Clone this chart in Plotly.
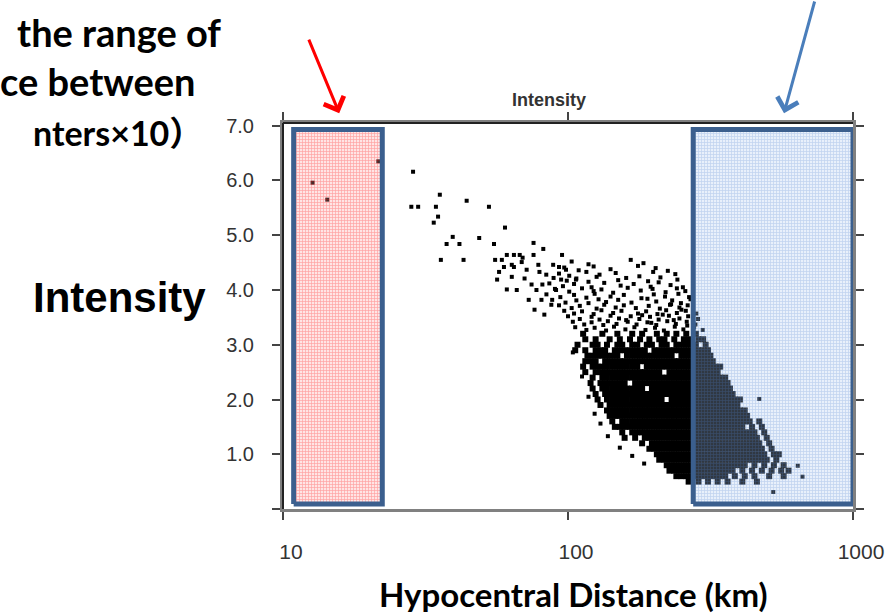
import plotly.graph_objects as go

# ---------------- data ----------------
# isolated events: (hypocentral distance km, intensity)
sparse_pts = [
    (12.7, 5.96), (14.3, 5.65), (21.6, 6.35),
    (28.6, 6.16), (35.5, 5.74), (28.2, 5.52), (29.8, 5.52), (34.4, 5.52),
    (44.1, 5.63), (52.8, 5.52), (35.0, 5.34), (33.8, 5.23), (60.1, 5.14),
    (39.4, 4.97), (37.5, 4.84), (41.6, 4.84), (48.8, 4.95), (55.0, 4.84),
    (75.7, 4.86), (81.9, 4.75), (64.6, 4.64), (67.7, 4.64), (35.8, 4.55),
    (43.0, 4.55), (55.5, 4.55), (61.0, 4.64), (69.3, 4.59), (75.7, 4.64),
    (59.6, 4.42), (64.6, 4.42), (57.3, 4.33), (63.5, 4.24), (79.4, 4.33),
    (93.0, 4.42), (56.4, 4.19), (58.6, 4.55), (63.5, 4.46), (68.8, 4.51),
    (61.0, 4.01), (70.4, 4.21), (74.5, 4.10), (77.5, 4.00), (80.7, 3.82),
    (72.8, 3.82), (82.6, 3.55), (90.8, 4.00), (94.6, 4.19), (98.4, 4.37),
    (87.4, 3.73), (78.7, 4.46), (83.9, 4.28), (66.1, 4.00), (71.6, 4.37),
    (76.3, 3.64), (81.3, 4.10), (88.7, 4.46), (95.3, 4.64), (106.6, 4.19),
    (469, 2.01), (640, 0.79), (665, 0.59), (525, 0.31),
    (118, 2.05), (124, 1.74), (130, 1.56), (138, 1.33), (112, 2.42), (104, 2.86),
    (152, 1.12), (168, 0.97), (185, 0.83),
]

# moderately populated band above the core: (km, intensity)
upper_pts = [
    (103, 4.52), (118, 4.47), (166, 4.55), (184, 4.49),
    (97, 4.41), (109, 4.36), (123, 4.43), (141, 4.38), (176, 4.44), (203, 4.40), (224, 4.35),
    (93, 4.30), (101, 4.26), (116, 4.33), (129, 4.28), (147, 4.31), (178, 4.25), (199, 4.33), (238, 4.29),
    (89, 4.22), (99, 4.17), (107, 4.21), (118, 4.15), (126, 4.24), (150, 4.18), (160, 4.22), (191, 4.16), (211, 4.23), (242, 4.19),
    (86, 4.12), (96, 4.07), (105, 4.11), (121, 4.05), (134, 4.13), (153, 4.08), (170, 4.11), (195, 4.06), (208, 4.14), (229, 4.09), (253, 4.05),
    (90, 4.02), (101, 3.97), (112, 4.03), (123, 3.98), (131, 4.01), (144, 3.95), (162, 4.04), (180, 3.99), (198, 4.02), (220, 3.96), (241, 4.03), (258, 3.98),
    (84, 3.92), (94, 3.87), (105, 3.91), (116, 3.86), (124, 3.93), (141, 3.88), (157, 3.91), (181, 3.85), (200, 3.92), (219, 3.88), (244, 3.93), (266, 3.87),
    (88, 3.82), (98, 3.77), (107, 3.81), (118, 3.76), (128, 3.83), (136, 3.78), (150, 3.82), (167, 3.77), (190, 3.84), (204, 3.79), (232, 3.81), (249, 3.76), (269, 3.83),
    (93, 3.72), (103, 3.67), (110, 3.71), (126, 3.66), (134, 3.73), (147, 3.68), (157, 3.72), (173, 3.67), (192, 3.71), (210, 3.66), (228, 3.73), (246, 3.68), (263, 3.72),
    (97, 3.62), (105, 3.57), (112, 3.61), (123, 3.56), (131, 3.63), (144, 3.58), (154, 3.62), (176, 3.57), (188, 3.61), (206, 3.56), (221, 3.63), (241, 3.58), (259, 3.62), (282, 3.57),
    (100, 3.52), (110, 3.47), (121, 3.51), (129, 3.46), (141, 3.53), (151, 3.48), (166, 3.52), (178, 3.47), (194, 3.51), (208, 3.46), (226, 3.53), (246, 3.48), (264, 3.52), (286, 3.47),
    (104, 3.42), (114, 3.37), (121, 3.41), (133, 3.36), (138, 3.43), (148, 3.38), (162, 3.42), (174, 3.37), (190, 3.41), (204, 3.36), (223, 3.43), (239, 3.38), (261, 3.42), (280, 3.37),
    (106, 3.32), (116, 3.27), (124, 3.31), (136, 3.26), (145, 3.33), (159, 3.28), (171, 3.32), (187, 3.27), (202, 3.31), (217, 3.26), (237, 3.33), (254, 3.28), (277, 3.32), (297, 3.27),
    (215, 3.55), (235, 3.45), (250, 3.64), (196, 3.40), (230, 3.74), (262, 3.35), (182, 3.54), (160, 3.45),
]

# densely populated core: (intensity, distances km)
core_rows = [
    (3.2, [113, 132, 149, 168, 182, 205, 222, 240, 260, 281]),
    (3.1, [115, 125, 140, 152, 165, 179, 193, 209, 218, 236, 255, 265, 287, 298]),
    (3.0, [108, 122, 127, 137, 149, 155, 168, 175, 189, 197, 213, 222, 240, 250, 260, 270, 281, 304]),
    (2.9, [106, 115, 125, 130, 135, 146, 152, 158, 165, 172, 179, 186, 201, 209, 218, 227, 236, 245, 255, 265, 276, 287, 298, 310]),
    (2.8, [117, 122, 127, 132, 137, 143, 149, 161, 168, 175, 182, 189, 197, 205, 213, 222, 231, 250, 260, 270, 281, 292, 304, 316]),
    (2.7, [115, 120, 125, 135, 140, 146, 152, 158, 165, 172, 179, 186, 193, 201, 209, 218, 227, 236, 245, 255, 265, 276, 287, 298, 310, 322]),
    (2.6, [113, 122, 127, 132, 137, 143, 149, 155, 161, 168, 175, 189, 197, 205, 213, 222, 231, 240, 250, 260, 270, 281, 292, 304, 316, 329, 342]),
    (2.5, [115, 125, 130, 135, 140, 146, 152, 158, 165, 172, 179, 186, 193, 201, 209, 227, 236, 245, 255, 265, 276, 287, 298, 310, 322, 335]),
    (2.4, [122, 132, 137, 143, 149, 155, 161, 168, 175, 182, 189, 197, 205, 213, 222, 231, 240, 250, 260, 270, 281, 292, 304, 316, 329, 342, 356]),
    (2.3, [120, 130, 135, 140, 146, 152, 158, 172, 179, 186, 193, 201, 209, 218, 227, 236, 245, 255, 265, 276, 287, 298, 310, 322, 335, 349, 363]),
    (2.2, [122, 132, 137, 143, 149, 155, 161, 168, 175, 182, 197, 205, 213, 222, 231, 240, 250, 260, 270, 281, 292, 304, 316, 329, 342, 356, 370]),
    (2.1, [125, 135, 140, 146, 152, 158, 165, 172, 179, 186, 193, 201, 209, 218, 227, 236, 245, 255, 265, 276, 287, 298, 310, 322, 335, 349, 363, 378]),
    (2.0, [127, 137, 143, 149, 155, 161, 168, 175, 182, 189, 197, 205, 213, 231, 240, 250, 260, 270, 281, 292, 304, 316, 329, 342, 356, 370, 385, 401]),
    (1.9, [130, 140, 146, 152, 158, 165, 172, 179, 186, 193, 201, 209, 218, 227, 236, 245, 255, 265, 276, 287, 298, 310, 322, 335, 349, 363, 378, 393]),
    (1.8, [137, 143, 149, 155, 161, 168, 175, 182, 189, 197, 205, 213, 222, 231, 240, 250, 260, 270, 281, 292, 304, 316, 329, 342, 356, 370, 385, 401, 417]),
    (1.7, [140, 146, 152, 158, 165, 172, 179, 186, 193, 201, 209, 218, 227, 236, 245, 255, 265, 276, 287, 298, 310, 322, 335, 349, 363, 378, 393, 409, 425]),
    (1.6, [143, 155, 161, 168, 175, 182, 189, 197, 205, 213, 222, 231, 240, 250, 260, 270, 281, 292, 304, 316, 329, 342, 356, 370, 385, 401, 417, 434, 469]),
    (1.5, [146, 152, 158, 165, 172, 179, 186, 193, 201, 209, 218, 227, 236, 245, 255, 265, 276, 287, 298, 310, 322, 335, 349, 363, 378, 393, 409, 442, 479]),
    (1.4, [155, 168, 175, 182, 189, 197, 205, 213, 222, 231, 240, 250, 260, 270, 281, 292, 304, 316, 329, 342, 356, 370, 385, 401, 417, 434, 451, 488]),
    (1.3, [158, 172, 186, 193, 201, 209, 218, 227, 236, 245, 255, 265, 276, 287, 298, 310, 322, 335, 349, 363, 378, 393, 409, 425, 442, 460, 498]),
    (1.2, [182, 197, 205, 213, 222, 231, 240, 250, 260, 270, 281, 292, 304, 316, 329, 342, 356, 370, 385, 401, 417, 434, 451, 469, 508]),
    (1.1, [193, 201, 209, 218, 227, 236, 245, 255, 265, 276, 287, 298, 310, 322, 335, 349, 363, 378, 393, 409, 425, 442, 460, 479, 518]),
    (1.0, [205, 213, 222, 231, 240, 250, 260, 270, 281, 292, 304, 316, 329, 342, 356, 370, 385, 401, 417, 434, 451, 469, 488, 528, 549]),
    (0.9, [209, 218, 227, 236, 245, 255, 265, 276, 287, 298, 310, 322, 335, 349, 363, 378, 393, 409, 425, 442, 460, 479, 498, 538]),
    (0.8, [222, 231, 240, 250, 260, 270, 281, 292, 304, 316, 329, 342, 356, 370, 385, 401, 417, 451, 488, 528, 571]),
    (0.7, [227, 236, 245, 255, 265, 276, 287, 298, 310, 322, 335, 349, 363, 378, 409, 442, 479, 518, 560, 594]),
    (0.6, [240, 250, 260, 270, 281, 292, 304, 316, 329, 342, 356, 385, 417, 451, 508, 571]),
    (0.5, [265, 287, 310, 335, 363, 409, 460]),
]

# highlighted distance bands (km) and their vertical extent (intensity)
near_band_km = [10.9, 22.3]
far_band_km = [275, 1000]
band_intensity = [0.09, 6.93]

x_tick_vals = [10, 100, 1000]
x_tick_text = ["10", "100", "1000"]
y_tick_vals = [0, 1, 2, 3, 4, 5, 6, 7]
y_tick_text = ["", "1.0", "2.0", "3.0", "4.0", "5.0", "6.0", "7.0"]

# ---------------- build figure ----------------
def flatten_rows(rows):
    xs, ys = [], []
    for inten, kms in rows:
        for k in kms:
            xs.append(k)
            ys.append(inten)
    return xs, ys

fig = go.Figure()

sx = [p[0] for p in sparse_pts + upper_pts]
sy = [p[1] for p in sparse_pts + upper_pts]
cx, cy = flatten_rows(core_rows)

fig.add_trace(go.Scatter(x=sx, y=sy, mode="markers",
                         marker=dict(symbol="square", size=4, color="black", line=dict(width=0)),
                         showlegend=False, hoverinfo="skip"))
fig.add_trace(go.Scatter(x=cx, y=cy, mode="markers",
                         marker=dict(symbol="square", size=6, color="black", line=dict(width=0)),
                         showlegend=False, hoverinfo="skip"))


def band(xr, fg, bg):
    x0, x1 = xr
    y0, y1 = band_intensity
    return go.Scatter(x=[x0, x1, x1, x0, x0], y=[y0, y0, y1, y1, y0], mode="lines",
                      fill="toself", fillcolor=bg,
                      fillpattern=dict(shape="+", fgcolor=fg, bgcolor=bg, size=3, solidity=0.4),
                      line=dict(color="#3b5f8e", width=5),
                      showlegend=False, hoverinfo="skip")


fig.add_trace(band(near_band_km, "rgba(255,20,20,0.65)", "rgba(255,160,160,0.28)"))
fig.add_trace(band(far_band_km, "rgba(80,130,210,0.55)", "rgba(170,200,240,0.28)"))

fig.update_xaxes(type="log", range=[1, 3], tickvals=x_tick_vals, ticktext=x_tick_text,
                 showline=True, linecolor="#808080", linewidth=3, mirror="ticks",
                 ticks="outside", ticklen=8, tickwidth=2, tickcolor="#444",
                 showgrid=False, zeroline=False, ticklabelstandoff=14, ticklabelshift=8,
                 tickfont=dict(family="Liberation Sans", size=21, color="#333"))
fig.update_yaxes(range=[0, 7.05], tickvals=y_tick_vals, ticktext=y_tick_text,
                 showline=True, linecolor="#808080", linewidth=3, mirror="ticks",
                 ticks="outside", ticklen=8, tickwidth=2, tickcolor="#444",
                 showgrid=False, zeroline=False, ticklabelstandoff=14,
                 tickfont=dict(family="Liberation Sans", size=20, color="#333"))

# darker top and left frame lines
fig.add_shape(type="line", xref="paper", yref="paper", x0=0, x1=1, y0=1, y1=1,
              line=dict(color="#222", width=2))
fig.add_shape(type="line", xref="paper", yref="paper", x0=0, x1=0, y0=0, y1=1,
              line=dict(color="#222", width=2))

annos = [
    dict(text="<b>Intensity</b>", x=0.467, y=1.06, font=dict(family="Liberation Sans", size=18, color="#333"),
         xanchor="center", yanchor="middle", showarrow=False),
    dict(text="<b>the range of</b>", x=-0.1055, y=1.2358, xanchor="right", yanchor="middle",
         font=dict(family="Lato", size=38, color="black"), showarrow=False),
    dict(text="<b>ce between</b>", x=-0.1488, y=1.108, xanchor="right", yanchor="middle",
         font=dict(family="Lato", size=38, color="black"), showarrow=False),
    dict(text="<b>nters×10）</b>", x=-0.136, y=0.975, xanchor="right", yanchor="middle",
         font=dict(family="Lato, Noto Sans CJK JP", size=34, color="black"), showarrow=False),
    dict(text="<b>Intensity</b>", x=-0.1315, y=0.549, xanchor="right", yanchor="middle",
         font=dict(family="Liberation Sans", size=42, color="black"), showarrow=False),
    dict(text="<b>Hypocentral Distance (km)</b>", x=0.509, y=-0.219, xanchor="center", yanchor="middle",
         font=dict(family="Lato", size=33, color="black"), showarrow=False),
    dict(text="", x=0.0986, y=1.0255, showarrow=True, ax=-31, ay=-75,
         arrowhead=4, arrowsize=1.4, arrowwidth=3, arrowcolor="#ff0000"),
    dict(text="", x=0.879, y=1.0255, showarrow=True, ax=31, ay=-118,
         arrowhead=4, arrowsize=1.4, arrowwidth=3, arrowcolor="#4a7ebb"),
]
for a in annos:
    a.setdefault("xref", "paper")
    a.setdefault("yref", "paper")
    fig.add_annotation(**a)

fig.update_layout(width=896, height=614, margin=dict(l=283, r=35, t=123, b=105),
                  plot_bgcolor="white", paper_bgcolor="white")

fig.write_html("out.html")
